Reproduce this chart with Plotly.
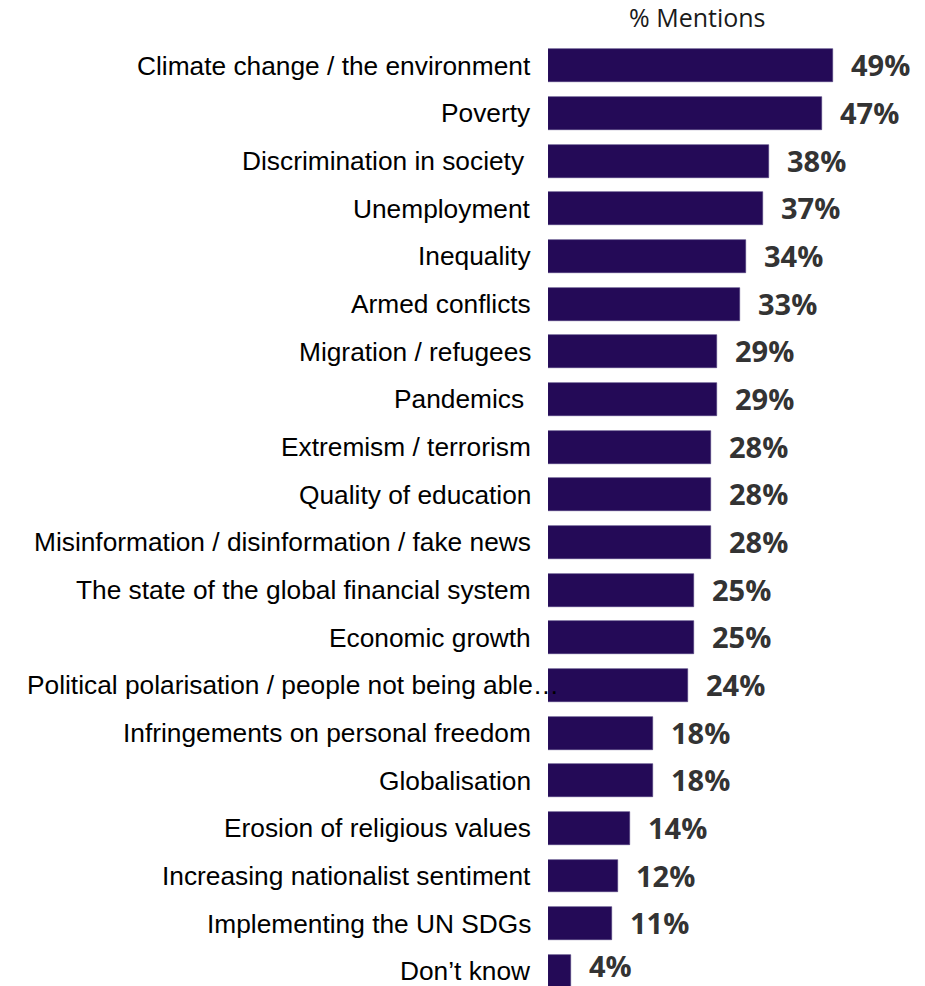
import plotly.graph_objects as go

categories = [
    "Climate change / the environment",
    "Poverty",
    "Discrimination in society\u00a0",
    "Unemployment",
    "Inequality",
    "Armed conflicts",
    "Migration / refugees",
    "Pandemics\u00a0",
    "Extremism / terrorism",
    "Quality of education",
    "Misinformation / disinformation / fake news",
    "The state of the global financial system",
    "Economic growth",
    "Political polarisation / people not being able\u2026",
    "Infringements on personal freedom",
    "Globalisation",
    "Erosion of religious values",
    "Increasing nationalist sentiment",
    "Implementing the UN SDGs",
    "Don\u2019t know",
]
values = [49, 47, 38, 37, 34, 33, 29, 29, 28, 28, 28, 25, 25, 24, 18, 18, 14, 12, 11, 4]
value_labels = [f"{v}%" for v in values]
title_text = "% Mentions"

W, H = 925, 986
ML, MR, MT, MB = 548, 0, 41.6, 0
plot_w = W - ML - MR
px_per_unit = 5.823
x_max = plot_w / px_per_unit
row_px = 47.68
plot_h = H - MT - MB
y_bottom = -0.5 + plot_h / row_px

ypos = list(range(len(categories)))
bar_color = "#240A57"

fig = go.Figure()
fig.add_trace(go.Bar(
    x=values, y=ypos, orientation="h",
    marker=dict(color=bar_color, line=dict(color="#4B3A7A", width=0.6)),
    width=0.69, hoverinfo="skip",
))

n = len(categories)
annotations = []
for i, (c, v, t) in enumerate(zip(categories, values, value_labels)):
    shift = 13 if c.startswith("Political") else -15
    annotations.append(dict(
        x=0, y=i, xref="x", yref="y", text=c, showarrow=False,
        xanchor="right", yanchor="middle", xshift=shift,
        font=dict(family="Liberation Sans, Arial, sans-serif", size=26.3, color="#000000"),
    ))
    # keep the bottom-most label fully inside the page
    ys = 6 if i == n - 1 else 1
    annotations.append(dict(
        x=v, y=i, xref="x", yref="y", text=t, showarrow=False,
        xanchor="left", yanchor="middle", xshift=16, yshift=ys,
        font=dict(family="Open Sans, Noto Sans, sans-serif", size=29, color="#333333", weight="bold"),
    ))
annotations.append(dict(
    x=(697 - ML) / plot_w, y=1 + (MT - 17) / plot_h, xref="paper", yref="paper",
    text=title_text, showarrow=False, xanchor="center", yanchor="middle",
    font=dict(family="Open Sans, Noto Sans, sans-serif", size=25, color="#1A1A1A"),
))

fig.update_layout(
    width=W, height=H,
    margin=dict(l=ML, r=MR, t=MT, b=MB, pad=0),
    paper_bgcolor="white", plot_bgcolor="white",
    showlegend=False,
    xaxis=dict(range=[0, x_max], visible=False, fixedrange=True),
    yaxis=dict(range=[y_bottom, -0.5], visible=False, fixedrange=True),
    annotations=annotations,
    bargap=0,
)
fig.write_html("out.html", config={"displayModeBar": False})
